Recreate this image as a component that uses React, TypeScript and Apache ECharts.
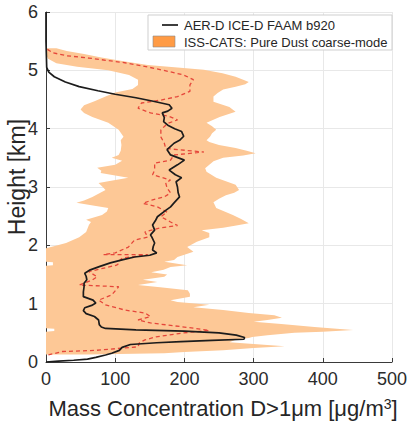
import React, { useEffect, useRef } from "react";
import * as echarts from "echarts";

// Aircraft profile (AER-D ICE-D FAAM b920): [height km, mass conc µg/m3], top to bottom
const faamProfile: [number, number][] = [
  [6.0, 0], [5.5, 0], [5.05, 1], [4.97, 4], [4.89, 12], [4.8, 28], [4.72, 48], [4.65, 75],
  [4.59, 100], [4.53, 130], [4.47, 155], [4.41, 178], [4.35, 182], [4.3, 176], [4.27, 168],
  [4.19, 171], [4.12, 170], [4.06, 176], [4.0, 186], [3.95, 196], [3.87, 199], [3.8, 193],
  [3.75, 185], [3.64, 175], [3.55, 180], [3.46, 200], [3.38, 190], [3.29, 178], [3.21, 187],
  [3.16, 196], [3.09, 188], [3.0, 190], [2.9, 191], [2.83, 193], [2.74, 186], [2.66, 180],
  [2.6, 173], [2.49, 161], [2.42, 158], [2.35, 154], [2.26, 157], [2.18, 151], [2.14, 153],
  [2.04, 157], [1.98, 155], [1.92, 154], [1.87, 160], [1.83, 150], [1.8, 128], [1.75, 110],
  [1.7, 93], [1.64, 78], [1.58, 64], [1.52, 56], [1.47, 58], [1.41, 59], [1.35, 55],
  [1.29, 55], [1.2, 54], [1.12, 54], [1.06, 68], [1.01, 72], [0.97, 66], [0.93, 56],
  [0.88, 54], [0.83, 58], [0.78, 70], [0.72, 76], [0.64, 77], [0.6, 80], [0.575, 86],
  [0.55, 130], [0.53, 200], [0.5, 250], [0.46, 275], [0.42, 287], [0.39, 286], [0.37, 240],
  [0.35, 195], [0.33, 160], [0.3, 122], [0.25, 110], [0.2, 106], [0.15, 95], [0.12, 86],
  [0.08, 72], [0.05, 60], [0.03, 40], [0.015, 18], [0, 0],
];

// ISS-CATS pure dust coarse-mode median: [height km, value]
const catsMedian: [number, number][] = [
  [5.36, 2], [5.3, 10], [5.25, 30], [5.21, 62], [5.13, 114], [5.05, 150], [5.0, 170],
  [4.92, 199], [4.84, 213], [4.75, 208], [4.64, 208], [4.55, 190], [4.49, 166], [4.44, 138],
  [4.35, 133], [4.27, 151], [4.21, 178], [4.15, 190], [4.1, 178], [4.06, 173], [3.98, 166],
  [3.86, 166], [3.75, 171], [3.66, 173], [3.6, 228], [3.55, 185], [3.46, 180], [3.41, 157],
  [3.29, 157], [3.21, 154], [3.12, 180], [3.07, 173], [2.98, 175], [2.9, 180], [2.83, 171],
  [2.78, 154], [2.72, 140], [2.66, 161], [2.57, 175], [2.49, 166], [2.4, 180], [2.34, 190],
  [2.3, 166], [2.23, 143], [2.14, 147], [2.09, 128], [1.97, 119], [1.87, 100], [1.84, 83],
  [1.84, 147], [1.78, 110], [1.72, 105], [1.69, 105], [1.66, 102], [1.55, 62], [1.46, 74],
  [1.4, 66], [1.32, 48], [1.29, 105], [1.22, 100], [1.15, 95], [1.06, 76], [0.98, 86],
  [0.89, 114], [0.84, 143], [0.78, 151], [0.72, 133], [0.67, 151], [0.58, 213], [0.54, 236],
  [0.5, 199], [0.43, 159], [0.38, 143], [0.33, 135], [0.26, 133], [0.2, 72], [0.18, 24],
  [0.12, 3],
];

// ISS-CATS range, left edge (top to bottom): [height km, value]
const catsLow: [number, number][] = [
  [5.38, 0], [5.28, 0], [5.2, 3], [5.12, 15], [5.06, 45], [5.0, 90], [4.92, 120], [4.84, 133],
  [4.75, 133], [4.68, 125], [4.62, 100], [4.55, 86], [4.47, 70], [4.4, 55], [4.33, 50],
  [4.27, 55], [4.2, 67], [4.1, 90], [3.98, 105], [3.86, 112], [3.8, 108], [3.72, 109],
  [3.62, 108], [3.55, 105], [3.5, 95], [3.45, 110], [3.38, 100], [3.33, 74], [3.28, 80],
  [3.24, 79], [3.16, 119], [3.1, 90], [3.07, 76], [3.0, 82], [2.95, 86], [2.83, 67],
  [2.77, 55], [2.73, 44], [2.68, 70], [2.64, 90], [2.58, 88], [2.52, 81], [2.44, 58],
  [2.4, 65], [2.35, 62], [2.23, 58], [2.14, 48], [2.04, 29], [1.98, 10], [1.95, 0],
  [1.72, 0], [1.71, 10], [1.66, 10], [1.65, 0], [0.58, 0], [0.57, 12], [0.53, 12],
  [0.52, 0], [0.13, 0],
];

// ISS-CATS range, right edge (top to bottom): [height km, value]
const catsHigh: [number, number][] = [
  [5.38, 15], [5.33, 30], [5.28, 55], [5.22, 80], [5.16, 110], [5.09, 147], [5.05, 190],
  [5.01, 228], [4.95, 255], [4.89, 274], [4.84, 285], [4.8, 293], [4.76, 288], [4.72, 274],
  [4.67, 256], [4.61, 248], [4.55, 242], [4.46, 242], [4.37, 265], [4.29, 274], [4.2, 251],
  [4.1, 232], [4.04, 240], [3.98, 246], [3.92, 240], [3.86, 237], [3.8, 232], [3.77, 236],
  [3.72, 250], [3.67, 274], [3.62, 290], [3.58, 303], [3.54, 285], [3.5, 256], [3.44, 242],
  [3.38, 236], [3.32, 230], [3.26, 232], [3.16, 246], [3.1, 260], [3.04, 274], [2.95, 279],
  [2.9, 272], [2.86, 260], [2.8, 250], [2.74, 242], [2.64, 246], [2.58, 258], [2.52, 270],
  [2.45, 282], [2.38, 293], [2.34, 275], [2.3, 256], [2.26, 225], [2.21, 236], [2.14, 236],
  [2.06, 218], [1.97, 204], [1.89, 213], [1.84, 200], [1.8, 190], [1.75, 185], [1.72, 171],
  [1.66, 204], [1.63, 180], [1.58, 170], [1.54, 152], [1.5, 175], [1.46, 171], [1.41, 140],
  [1.37, 161], [1.32, 133], [1.28, 165], [1.23, 205], [1.17, 208], [1.12, 208], [1.06, 180],
  [1.03, 190], [0.98, 236], [0.94, 213], [0.89, 256], [0.84, 293], [0.8, 330], [0.76, 341],
  [0.72, 320], [0.69, 300], [0.65, 340], [0.6, 388], [0.57, 420], [0.55, 444], [0.52, 400],
  [0.5, 359], [0.46, 320], [0.43, 298], [0.41, 293], [0.38, 274], [0.34, 265], [0.31, 300],
  [0.27, 345], [0.24, 300], [0.2, 256], [0.17, 200], [0.15, 171], [0.13, 60],
];

const xTicks = { min: 0, max: 500, interval: 100 };
const yTicks = { min: 0, max: 6, interval: 1 };

const legendNames = ["AER-D ICE-D FAAM b920", "ISS-CATS: Pure Dust coarse-mode"];

const FONT = "'Liberation Sans', Arial, Helvetica, sans-serif";

const toXY = (arr: [number, number][]) => arr.map(([h, v]) => [v, h]);
const bandPolygon = [...toXY(catsLow), ...toXY(catsHigh).reverse()];

export default function App() {
  const ref = useRef<HTMLDivElement>(null);
  useEffect(() => {
    if (!ref.current) return;
    const chart = echarts.init(ref.current, undefined, { renderer: "svg" });
    const axisCommon = {
      type: "value" as const,
      axisLine: { show: true, lineStyle: { color: "#3a3a3a", width: 1 } },
      axisTick: { show: true, inside: true, length: 4, lineStyle: { color: "#3a3a3a" } },
      splitLine: { show: true, lineStyle: { color: "#e8e8e8", width: 1 } },
      axisLabel: { fontSize: 18, color: "#2b2b2b", fontFamily: FONT, margin: 8 },
    };
    chart.setOption({
      animation: false,
      backgroundColor: "#ffffff",
      grid: { left: 46, right: 11, top: 12, bottom: 61, containLabel: false },
      xAxis: { ...axisCommon, ...xTicks },
      yAxis: { ...axisCommon, ...yTicks },
      series: [
        {
          type: "custom",
          name: legendNames[1],
          data: bandPolygon,
          encode: { x: 0, y: 1 },
          silent: true,
          z: 1,
          renderItem: (params: any, api: any) => {
            if (params.dataIndex !== 0) return null;
            const pts = bandPolygon.map((p) => api.coord(p));
            return { type: "polygon", shape: { points: pts }, style: { fill: "#fdc896" } };
          },
        },
        {
          type: "line",
          name: "median",
          data: toXY(catsMedian),
          showSymbol: false,
          silent: true,
          z: 3,
          lineStyle: { color: "#e5463a", width: 1.3, type: [4, 3] },
        },
        {
          type: "line",
          name: legendNames[0],
          data: toXY(faamProfile),
          showSymbol: false,
          silent: true,
          z: 4,
          lineStyle: { color: "#1c1c1c", width: 1.7 },
        },
      ],
      graphic: [
        {
          type: "rect",
          shape: { x: 148, y: 15, width: 244, height: 35 },
          style: { fill: "#ffffff", stroke: "#cfcfcf", lineWidth: 1 },
          z: 10,
        },
        {
          type: "line",
          shape: { x1: 162, y1: 25, x2: 178, y2: 25 },
          style: { stroke: "#1c1c1c", lineWidth: 1.7 },
          z: 11,
        },
        {
          type: "rect",
          shape: { x: 153, y: 36, width: 22, height: 11 },
          style: { fill: "#ff9b45", stroke: "#8a8a8a", lineWidth: 0.6 },
          z: 11,
        },
        {
          type: "text",
          x: 184,
          y: 25,
          z: 11,
          style: { text: legendNames[0], fontSize: 13, fontFamily: FONT, fill: "#262626", verticalAlign: "middle" },
        },
        {
          type: "text",
          x: 184,
          y: 42,
          z: 11,
          style: { text: legendNames[1], fontSize: 13, fontFamily: FONT, fill: "#262626", verticalAlign: "middle" },
        },
        {
          type: "text",
          x: 17,
          y: 177,
          rotation: Math.PI / 2,
          style: {
            text: "Height [km]",
            fontSize: 23,
            fontFamily: FONT,
            fill: "#262626",
            align: "center",
            verticalAlign: "middle",
          },
        },
        {
          type: "text",
          x: 223,
          y: 408,
          style: {
            text: "{a|Mass Concentration D>1μm [μg/m}{s|3}{a|]}",
            align: "center",
            verticalAlign: "middle",
            rich: {
              a: { fontSize: 22, fontFamily: FONT, fill: "#262626", lineHeight: 22 },
              s: { fontSize: 14, fontFamily: FONT, fill: "#262626", lineHeight: 12, verticalAlign: "top" },
            },
          },
        },
      ],
    });
    return () => chart.dispose();
  }, []);
  return (
    <div
      ref={ref}
      style={{ position: "fixed", left: 0, top: 0, width: 410, height: 423, background: "#fff" }}
    />
  );
}
